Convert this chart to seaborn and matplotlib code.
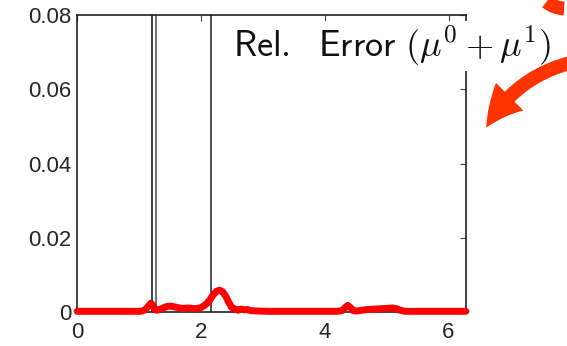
import numpy as np
import pandas as pd
import matplotlib
matplotlib.use("Agg")
import matplotlib.pyplot as plt
import seaborn as sns
from matplotlib.patches import FancyArrowPatch

# Relative error of the combined fields along the angle coordinate
theta = [0.00, 0.30, 0.60, 0.90, 1.00, 1.05, 1.10, 1.15, 1.19, 1.22, 1.26, 1.30,
         1.35, 1.40, 1.45, 1.50, 1.55, 1.60, 1.70, 1.80, 1.90, 2.00, 2.05, 2.10,
         2.15, 2.20, 2.25, 2.30, 2.35, 2.40, 2.45, 2.50, 2.55, 2.60, 2.65, 2.70,
         2.75, 2.80, 2.90, 3.10, 3.50, 3.90, 4.20, 4.28, 4.33, 4.37, 4.41, 4.46,
         4.52, 4.60, 4.70, 4.80, 4.90, 5.00, 5.10, 5.16, 5.22, 5.30, 5.60, 6.00, 6.28]
rel_error = [0.0002, 0.0002, 0.0002, 0.0002, 0.0002, 0.0003, 0.0006, 0.0016, 0.0024, 0.0019, 0.0006, 0.0005,
             0.0008, 0.0012, 0.0015, 0.0016, 0.0015, 0.0013, 0.0010, 0.0011, 0.0009, 0.0012, 0.0017, 0.0024,
             0.0034, 0.0047, 0.0056, 0.0059, 0.0055, 0.0043, 0.0026, 0.0012, 0.0008, 0.0005, 0.0008, 0.0006,
             0.0007, 0.0004, 0.0003, 0.0002, 0.0002, 0.0002, 0.0002, 0.0004, 0.0012, 0.0018, 0.0013, 0.0004,
             0.0003, 0.0005, 0.0007, 0.0008, 0.0009, 0.0010, 0.0011, 0.0009, 0.0005, 0.0002, 0.0002, 0.0002, 0.0002]

# Region boundaries marked as vertical lines
boundaries = [1.21, 1.27, 2.17]
boundary_colors = ["#222222", "#555555", "#333333"]

x_ticks = [0, 2, 4, 6]
y_ticks = [0, 0.02, 0.04, 0.06, 0.08]
y_ticklabels = ["0", "0.02", "0.04", "0.06", "0.08"]

df = pd.DataFrame({"theta": theta, "rel_error": rel_error})

sns.set_style("white")
plt.rcParams["font.family"] = ["Liberation Sans", "DejaVu Sans"]
plt.rcParams["mathtext.fontset"] = "cm"

fig = plt.figure(figsize=(5.67, 3.46), dpi=100)
ax = fig.add_axes([0.136, 0.098, 0.686, 0.858])

for b, c in zip(boundaries, boundary_colors):
    ax.axvline(b, color=c, lw=1.2, zorder=1)

sns.lineplot(data=df, x="theta", y="rel_error", color="#ff0000", lw=5.0,
             ax=ax, zorder=3, clip_on=False)

ax.set_xlim(0, 2 * np.pi)
ax.set_ylim(0, 0.08)
ax.set_xticks(x_ticks)
ax.set_yticks(y_ticks)
ax.set_yticklabels(y_ticklabels)
ax.set_xlabel("")
ax.set_ylabel("")
ax.tick_params(direction="in", length=4, width=0.8, color="#444444",
               labelsize=16, top=True, right=True, pad=4)
ax.tick_params(axis="x", pad=7)
for s in ax.spines.values():
    s.set_color("#222222")
    s.set_linewidth(1.2)

ax.text(0.401, 0.859,
        r"$\mathsf{Rel.\ \ Error}\ (\mu^{\mathsf{0}} + \mu^{\mathsf{1}})$",
        transform=ax.transAxes, va="baseline",
        fontsize=26, color="#111111", clip_on=False, zorder=5,
        bbox=dict(facecolor="white", edgecolor="none", pad=2))

# Curved annotation arrow at the right
arrow = FancyArrowPatch((1.01, 0.82), (0.855, 0.624), transform=fig.transFigure,
                        connectionstyle="arc3,rad=0.22",
                        arrowstyle="Simple,head_width=28,head_length=28,tail_width=10",
                        color="#ff3300", lw=0, zorder=10)
fig.add_artist(arrow)
tail = FancyArrowPatch((0.96, 1.0), (1.0, 0.975), transform=fig.transFigure,
                       connectionstyle="arc3,rad=0.2",
                       arrowstyle="Simple,head_width=0.1,head_length=0.1,tail_width=10",
                       color="#ff3300", lw=0, zorder=10)
fig.add_artist(tail)

fig.savefig("out.png", dpi=100, facecolor="white")
